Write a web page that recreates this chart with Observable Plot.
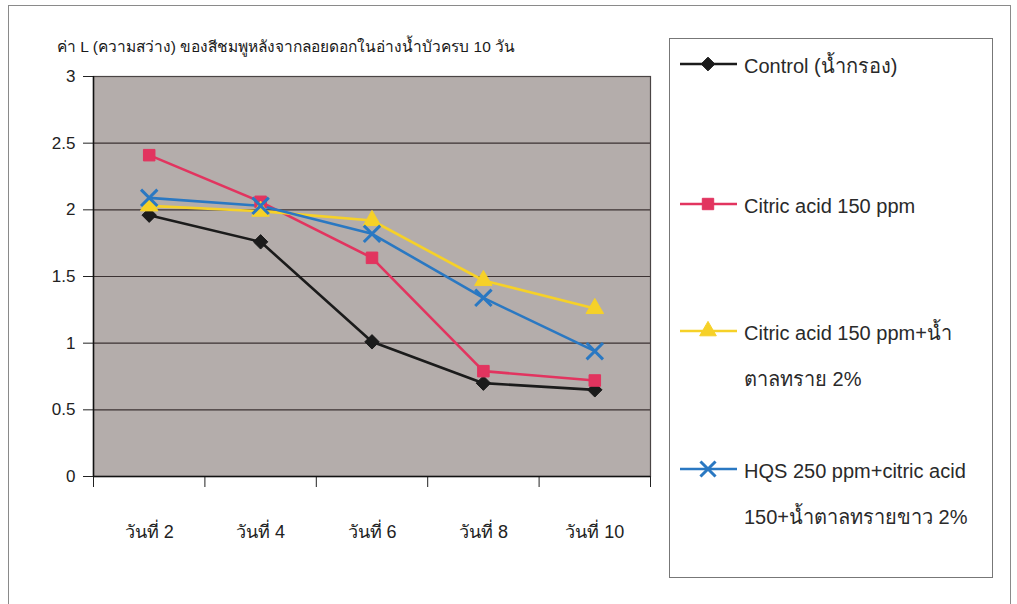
<!DOCTYPE html>
<html>
<head>
<meta charset="utf-8">
<script src="https://cdn.jsdelivr.net/npm/d3@7"></script>
<script src="https://cdn.jsdelivr.net/npm/@observablehq/plot@0.6"></script>
<style>
  html, body { margin: 0; padding: 0; background: #fff; }
  #page { position: relative; width: 1017px; height: 604px; overflow: hidden; font-family: "Liberation Sans", Arial, "Noto Sans", sans-serif; color: #222; }
  #outer { position: absolute; left: 8px; top: 5px; width: 1003px; height: 640px; border: 1px solid #8a8a8a; box-sizing: border-box; }
  #title { position: absolute; left: 57px; top: 34px; font-size: 15.5px; color: #1a1a1a; white-space: nowrap; }
  #chart { position: absolute; left: 0; top: 0; }
  #legend { position: absolute; left: 669px; top: 38px; width: 324px; height: 540px; border: 1px solid #777; box-sizing: border-box; background: #fff; }
  .item { position: absolute; left: 10px; display: flex; align-items: flex-start; }
  .item svg { flex: none; }
  .item .lab { font-size: 20px; line-height: 46px; color: #2a2a2a; margin-left: 4px; margin-top: -21px; white-space: nowrap; }
</style>
</head>
<body>
<div id="page">
  <div id="outer"></div>
  <div id="chart"></div>
  <div id="title"></div>
  <div id="legend"></div>
</div>
<script>
const titleText = "ค่า L (ความสว่าง) ของสีชมพูหลังจากลอยดอกในอ่างน้ำบัวครบ 10 วัน";
const days = ["วันที่ 2", "วันที่ 4", "วันที่ 6", "วันที่ 8", "วันที่ 10"];
const seriesNames = [
  "Control (น้ำกรอง)",
  "Citric acid 150 ppm",
  "Citric acid 150 ppm+น้ำ\nตาลทราย 2%",
  "HQS 250 ppm+citric acid\n150+น้ำตาลทรายขาว 2%"
];
const control     = [1.96, 1.76, 1.01, 0.70, 0.65];
const citric      = [2.41, 2.06, 1.64, 0.79, 0.72];
const citricSugar = [2.03, 1.99, 1.92, 1.47, 1.26];
const hqs         = [2.09, 2.03, 1.82, 1.34, 0.94];
const yTicks = [0, 0.5, 1, 1.5, 2, 2.5, 3];

const colors  = ["#1b1b1b", "#e2345f", "#f6d128", "#2a78c2"];
const symbols = ["diamond2", "square", "triangle", "times"];
const values  = [control, citric, citricSugar, hqs];

const data = [];
values.forEach((vals, s) => vals.forEach((v, i) => data.push({series: seriesNames[s], day: days[i], i, value: v})));

document.getElementById("title").textContent = titleText;

const bandTicks = d3.range(days.length + 1);
const chart = Plot.plot({
  width: 1017,
  height: 604,
  marginLeft: 93,
  marginRight: 367,
  marginTop: 76,
  marginBottom: 128,
  style: {fontFamily: '"Liberation Sans", Arial, "Noto Sans", sans-serif', fontSize: "16px", color: "#222", background: "transparent"},
  x: {type: "linear", domain: [0, days.length], axis: null, label: null},
  y: {domain: [0, 3], axis: null, label: null},
  color: {domain: seriesNames, range: colors},
  symbol: {domain: seriesNames, range: symbols},
  marks: [
    Plot.frame({fill: "#b4adab", stroke: null}),
    Plot.ruleY(yTicks.filter(d => d > 0 && d < 3), {stroke: "#3b3232", strokeWidth: 1.2}),
    Plot.frame({stroke: "#4a4444", strokeWidth: 1.2}),
    Plot.axisY({ticks: yTicks, tickSize: 10, tickPadding: 8, fontSize: 17, stroke: "#222", label: null, tickFormat: d => String(d)}),
    Plot.axisX({ticks: bandTicks, tickSize: 11, tickFormat: () => "", stroke: "#222", label: null}),
    Plot.axisX({ticks: days.map((d, i) => i + 0.5), tickSize: 0, tickPadding: 49, fontSize: 18, label: null, tickFormat: t => days[Math.floor(t)]}),
    Plot.ruleX([0], {stroke: "#111", strokeWidth: 1.5}),
    Plot.ruleY([0], {stroke: "#111", strokeWidth: 1.5}),
    Plot.line(data, {x: d => d.i + 0.5, y: "value", z: "series", stroke: "series", strokeWidth: 2.6}),
    Plot.dot(data.filter(d => d.series !== seriesNames[3]), {x: d => d.i + 0.5, y: "value", symbol: "series", fill: "series", stroke: "series", strokeWidth: 1, r: 6.5}),
    Plot.dot(data.filter(d => d.series === seriesNames[3]), {x: d => d.i + 0.5, y: "value", symbol: "series", stroke: "series", strokeWidth: 3, r: 7.5})
  ]
});
document.getElementById("chart").appendChild(chart);

// legend
const legend = document.getElementById("legend");
const itemTops = [25, 165, 292, 430];
const symPaths = {
  diamond2: d3.symbol(d3.symbolDiamond2, 120)(),
  square: d3.symbol(d3.symbolSquare, 130)(),
  triangle: d3.symbol(d3.symbolTriangle, 120)(),
  times: d3.symbol(d3.symbolTimes, 150)()
};
seriesNames.forEach((name, s) => {
  const it = document.createElement("div");
  it.className = "item";
  it.style.top = itemTops[s] + "px";
  const isStroke = symbols[s] === "times";
  it.innerHTML = `<svg width="60" height="1" style="overflow:visible">
      <line x1="0" x2="57" y1="0" y2="0" stroke="${colors[s]}" stroke-width="2.6"/>
      <path transform="translate(28,0)" d="${symPaths[symbols[s]]}" fill="${isStroke ? "none" : colors[s]}" stroke="${colors[s]}" stroke-width="${isStroke ? 3 : 1}"/>
    </svg>`;
  const lab = document.createElement("div");
  lab.className = "lab";
  lab.innerHTML = name.split("\n").map(l => l.replace(/&/g, "&amp;")).join("<br>");
  it.appendChild(lab);
  legend.appendChild(it);
});
</script>
</body>
</html>
